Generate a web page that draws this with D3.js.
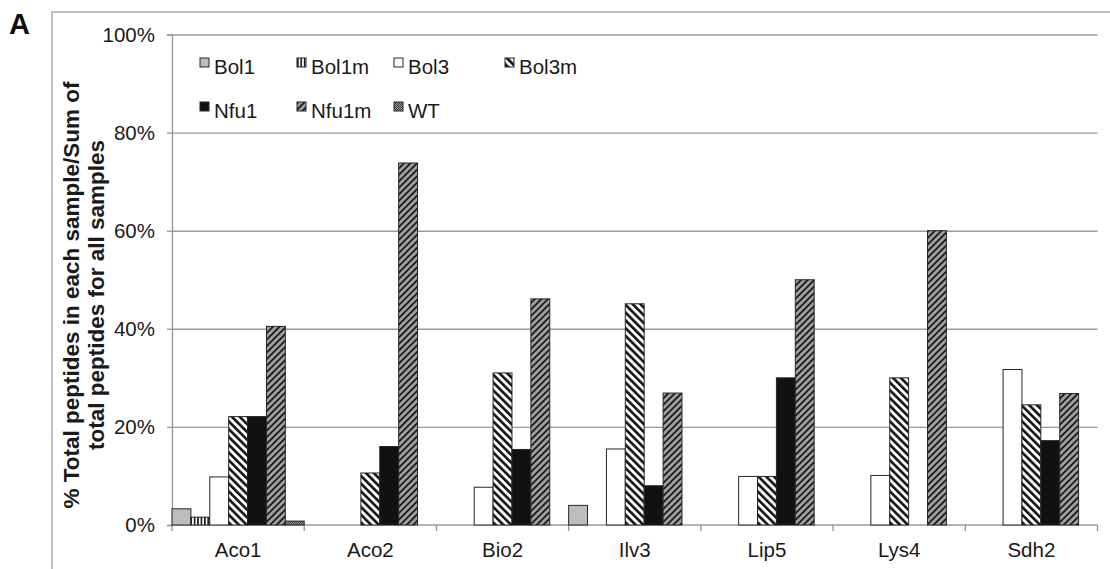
<!DOCTYPE html>
<meta charset="utf-8">
<html>
<head>
<title>Peptide share per sample</title>
<script src="https://d3js.org/d3.v7.min.js"></script>
<style>
  body { margin: 0; background: #fff; }
  text { font-family: "Liberation Sans", Arial, sans-serif; fill: #1a1a1a; }
  .grid line { stroke: #9a9a9a; stroke-width: 1.4px; }
  .grid path { display: none; }
  .bar { stroke: #262626; stroke-width: 1px; }
</style>
</head>
<body>
<svg width="1110" height="569"></svg>
<script>
//____________________________ DATA ____________________________
var categories = ["Aco1", "Aco2", "Bio2", "Ilv3", "Lip5", "Lys4", "Sdh2"];
var samples = ["Bol1", "Bol1m", "Bol3", "Bol3m", "Nfu1", "Nfu1m", "WT"];

// % of total peptides, one array per sample, in category order
var bol1  = [3.3, 0, 0, 4.0, 0, 0, 0];
var bol1m = [1.6, 0, 0, 0, 0, 0, 0];
var bol3  = [9.8, 0, 7.7, 15.5, 9.9, 10.1, 31.7];
var bol3m = [22.1, 10.6, 31.0, 45.1, 9.9, 30.0, 24.5];
var nfu1  = [22.1, 16.0, 15.4, 8.0, 30.0, 0, 17.2];
var nfu1m = [40.5, 73.8, 46.1, 26.9, 50.0, 60.0, 26.8];
var wt    = [0.8, 0, 0, 0, 0, 0, 0];

var yTicks = [0, 20, 40, 60, 80, 100];

var valuesBySample = {
  "Bol1": bol1, "Bol1m": bol1m, "Bol3": bol3, "Bol3m": bol3m,
  "Nfu1": nfu1, "Nfu1m": nfu1m, "WT": wt
};
var fillBySample = {
  "Bol1": "#bdbdbd", "Bol1m": "url(#vstripe)", "Bol3": "#ffffff",
  "Bol3m": "url(#bslash)", "Nfu1": "#111111", "Nfu1m": "url(#fslash)", "WT": "url(#dots)"
};

//____________________________ SETUP ____________________________
var svg = d3.select("svg");
var plotLeft = 172, plotRight = 1097.5, plotTop = 34.5, plotBottom = 525;

var x = d3.scaleBand().domain(categories).range([plotLeft, plotRight]).padding(0);
var xs = d3.scaleBand().domain(samples).range([0, x.bandwidth()]).padding(0);
var y = d3.scaleLinear().domain([0, 100]).range([plotBottom, plotTop]);

// patterns
var defs = svg.append("defs");

var p1 = defs.append("pattern").attr("id", "vstripe")
    .attr("patternUnits", "userSpaceOnUse").attr("width", 3.4).attr("height", 4);
p1.append("rect").attr("width", 3.4).attr("height", 4).attr("fill", "#fff");
p1.append("rect").attr("width", 1.6).attr("height", 4).attr("fill", "#111");

var p2 = defs.append("pattern").attr("id", "bslash")
    .attr("patternUnits", "userSpaceOnUse").attr("width", 5.5).attr("height", 5.5)
    .attr("patternTransform", "rotate(-45)");
p2.append("rect").attr("width", 5.5).attr("height", 5.5).attr("fill", "#fff");
p2.append("rect").attr("width", 2.6).attr("height", 5.5).attr("fill", "#111");

var p3 = defs.append("pattern").attr("id", "fslash")
    .attr("patternUnits", "userSpaceOnUse").attr("width", 4.6).attr("height", 4.6)
    .attr("patternTransform", "rotate(45)");
p3.append("rect").attr("width", 4.6).attr("height", 4.6).attr("fill", "#a0a0a0");
p3.append("rect").attr("width", 1.8).attr("height", 4.6).attr("fill", "#1a1a1a");

var p4 = defs.append("pattern").attr("id", "dots")
    .attr("patternUnits", "userSpaceOnUse").attr("width", 2).attr("height", 2);
p4.append("rect").attr("width", 2).attr("height", 2).attr("fill", "#9a9a9a");
p4.append("rect").attr("width", 1).attr("height", 1).attr("fill", "#3a3a3a");
p4.append("rect").attr("x", 1).attr("y", 1).attr("width", 1).attr("height", 1).attr("fill", "#3a3a3a");

// outer frame
svg.append("rect")
    .attr("x", 52).attr("y", 12).attr("width", 1080).attr("height", 580)
    .attr("fill", "none").attr("stroke", "#b0b0b0").attr("stroke-width", 1.6);

svg.append("text").text("A")
    .attr("x", 9).attr("y", 34)
    .style("font-size", "29px").style("font-weight", "bold").style("fill", "#111");

//____________________________ AXES ____________________________
svg.append("g").attr("class", "grid")
    .attr("transform", "translate(" + plotLeft + ",0)")
    .call(d3.axisLeft(y).tickValues(yTicks.slice(1)).tickSize(-(plotRight - plotLeft)).tickFormat(""));

var yAxis = svg.append("g")
    .attr("transform", "translate(" + plotLeft + ",0)")
    .call(d3.axisLeft(y).tickValues(yTicks).tickSize(5).tickPadding(12)
      .tickFormat(function(d) { return d + "%"; }));
yAxis.select(".domain").attr("stroke", "#9a9a9a").attr("stroke-width", 1.4);
yAxis.selectAll(".tick line").attr("stroke", "#9a9a9a").attr("stroke-width", 1.4);
yAxis.selectAll("text").style("font-size", "20.5px").style("font-family", "Liberation Sans, Arial, sans-serif").attr("fill", "#1a1a1a");

// baseline + category boundary ticks
svg.append("line")
    .attr("x1", plotLeft).attr("x2", plotRight).attr("y1", plotBottom).attr("y2", plotBottom)
    .attr("stroke", "#9a9a9a").attr("stroke-width", 1.4);

var bounds = categories.map(function(c) { return x(c); }).concat([plotRight]);
svg.append("g").selectAll("line").data(bounds).enter().append("line")
    .attr("x1", function(d) { return d; }).attr("x2", function(d) { return d; })
    .attr("y1", plotBottom).attr("y2", plotBottom + 6)
    .attr("stroke", "#9a9a9a").attr("stroke-width", 1.4);

svg.append("g").selectAll("text").data(categories).enter().append("text")
    .attr("x", function(d) { return x(d) + x.bandwidth() / 2; })
    .attr("y", 557)
    .attr("text-anchor", "middle")
    .style("font-size", "20.5px")
    .text(function(d) { return d; });

// y title, two lines
var yTitle = svg.append("text")
    .attr("transform", "translate(79,295) rotate(-90)")
    .attr("text-anchor", "middle")
    .style("font-size", "22.5px").style("font-weight", "bold");
yTitle.append("tspan").attr("x", 0).attr("y", 0).text("%  Total peptides in each sample/Sum of");
yTitle.append("tspan").attr("x", 0).attr("y", 25).text("total peptides for all samples");

//____________________________ BARS ____________________________
var rows = [];
categories.forEach(function(c, i) {
  samples.forEach(function(s) {
    if (valuesBySample[s][i] > 0) rows.push({ cat: c, sample: s, value: valuesBySample[s][i] });
  });
});

svg.append("g").selectAll("rect").data(rows).enter().append("rect")
    .attr("class", "bar")
    .attr("x", function(d) { return x(d.cat) + xs(d.sample); })
    .attr("width", xs.bandwidth())
    .attr("y", function(d) { return y(d.value); })
    .attr("height", function(d) { return plotBottom - y(d.value); })
    .attr("fill", function(d) { return fillBySample[d.sample]; });

//____________________________ LEGEND ____________________________
var legendX = [200, 297, 394, 505];
var legendY = [58, 102];
var legend = svg.append("g").selectAll("g").data(samples).enter().append("g")
    .attr("transform", function(d, i) {
      return "translate(" + legendX[i % 4] + "," + legendY[Math.floor(i / 4)] + ")";
    });
legend.append("rect")
    .attr("width", 9).attr("height", 9)
    .attr("stroke", "#262626").attr("stroke-width", 1)
    .attr("fill", function(d) { return fillBySample[d]; });
legend.append("text")
    .attr("x", 14).attr("y", 16)
    .style("font-size", "20.5px")
    .text(function(d) { return d; });
</script>
</body>
</html>
